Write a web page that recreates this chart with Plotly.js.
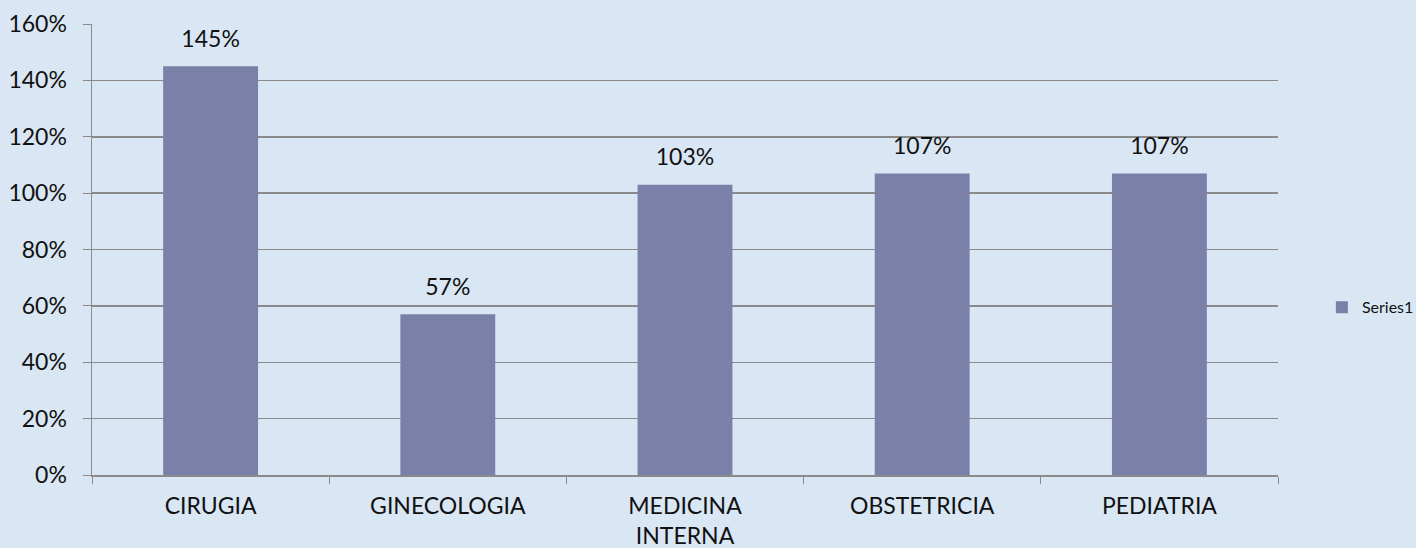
<!DOCTYPE html>
<html><head><meta charset="utf-8">
<script src="https://cdn.plot.ly/plotly-3.0.1.min.js"></script>
<style>html,body{margin:0;padding:0;background:#d9e6f4;}#chart{width:1416px;height:548px;}</style>
</head><body><div id="chart"></div>
<script>
const categories = ["CIRUGIA", "GINECOLOGIA", "MEDICINA<br>INTERNA", "OBSTETRICIA", "PEDIATRIA"];
const values = [1.45, 0.57, 1.03, 1.07, 1.07];
const labels = ["145%", "57%", "103%", "107%", "107%"];
const seriesName = "Series1";
const yTicks = [0, 0.2, 0.4, 0.6, 0.8, 1.0, 1.2, 1.4, 1.6];

const font = {family: "Lato, 'Open Sans', sans-serif", size: 23, color: "#111"};
Plotly.newPlot("chart", [{
  type: "bar", x: categories, y: values, name: seriesName,
  marker: {color: "#7a80a8"},
  showlegend: true, hoverinfo: "skip"
}, {
  type: "scatter", mode: "markers+text", x: categories, y: values,
  text: labels, textposition: "top center", textfont: font,
  marker: {size: 20, color: "rgba(0,0,0,0)"}, cliponaxis: false,
  showlegend: false, hoverinfo: "skip"
}], {
  width: 1416, height: 548,
  paper_bgcolor: "#d9e6f4", plot_bgcolor: "rgba(0,0,0,0)",
  margin: {l: 92, r: 138, t: 24, b: 73, autoexpand: false},
  font: font, bargap: 0.6,
  xaxis: {showline: true, linecolor: "#8a8a8a", linewidth: 1.5, ticks: "outside", tickson: "boundaries",
          ticklen: 7, tickcolor: "#8a8a8a", tickfont: font, showgrid: false, fixedrange: true,
          ticklabelstandoff: 10},
  yaxis: {range: [0, 1.6], tickvals: yTicks, tickformat: ".0%", showline: true, linecolor: "#8a8a8a",
          linewidth: 1.5, ticks: "outside", ticklen: 8, tickcolor: "#8a8a8a", gridcolor: "#8a8a8a",
          gridwidth: 1.5, zeroline: false, tickfont: font, fixedrange: true, ticklabelstandoff: 11},
  legend: {x: 1.037, y: 0.372, xanchor: "left", yanchor: "middle", itemwidth: 30,
           font: {family: font.family, size: 16, color: "#111"}, bgcolor: "rgba(0,0,0,0)"},
  showlegend: true
}, {displayModeBar: false, staticPlot: true});
</script></body></html>
